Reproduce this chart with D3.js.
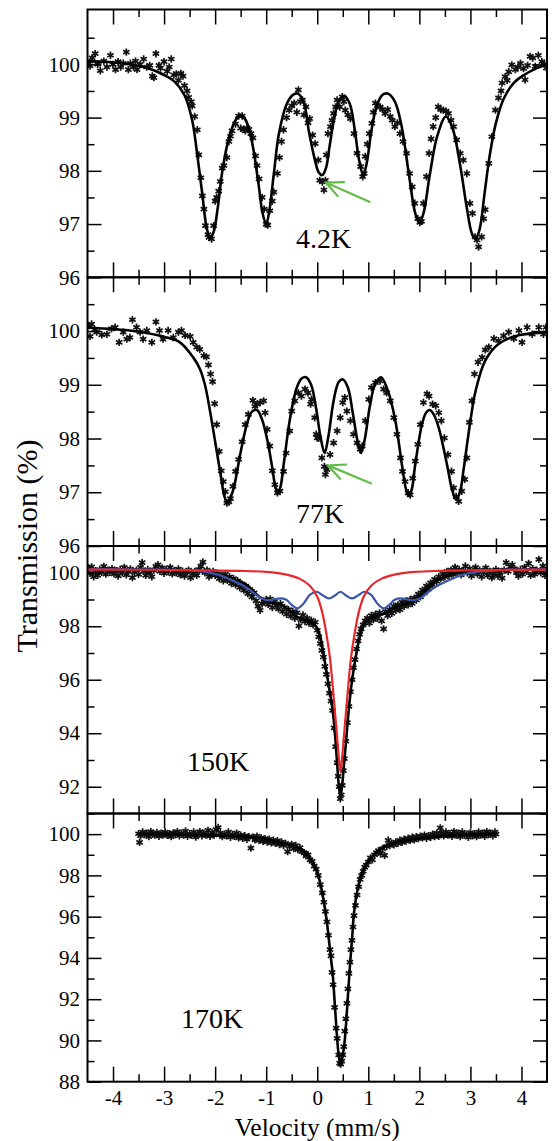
<!DOCTYPE html>
<html>
<head>
<meta charset="utf-8">
<title>Mossbauer spectra</title>
<style>
    body
    {
        margin: 0;
        background: #fff;
    }

    svg
    {
        display: block;
        font-family: "Liberation Serif", "Times New Roman", serif;
    }

    .frame
    {
        fill: none;
        stroke: #000;
        stroke-width: 2;
    }

    .axis line
    {
        stroke: #000;
        stroke-width: 1.5;
    }

    .axis text
    {
        fill: #000;
    }

    .pt
    {
        fill: none;
        stroke: #111;
        stroke-width: 1.7;
    }

    .fit
    {
        fill: none;
        stroke: #000;
        stroke-width: 2.6;
    }

    .singlet
    {
        fill: none;
        stroke: #e8262b;
        stroke-width: 2.2;
    }

    .sextet
    {
        fill: none;
        stroke: #3a56a8;
        stroke-width: 2.2;
    }

    .arrow
    {
        fill: none;
        stroke: #62bd47;
        stroke-width: 2.2;
    }
</style>
<script src="https://cdn.jsdelivr.net/npm/d3@7"></script>
</head>
<body>
<svg id="chart" width="552" height="1141"></svg>

<script>
// ---- data: [velocity (mm/s), transmission (%)] ----
var panelLabels = ["4.2K", "77K", "150K", "170K"];
var xDomain = [-4.5, 4.5];
var xMajorTicks = [-4, -3, -2, -1, 0, 1, 2, 3, 4];
var xMinorTicks = [-3.5, -2.5, -1.5, -0.5, 0.5, 1.5, 2.5, 3.5];
var yDomains = [[96, 101.03], [96, 101], [91, 101], [88, 101]];
var yMajorTicks = [
    [96, 97, 98, 99, 100],
    [96, 97, 98, 99, 100],
    [92, 94, 96, 98, 100],
    [88, 90, 92, 94, 96, 98, 100]
];
var yMinorTicks = [
    [96.5, 97.5, 98.5, 99.5, 100.5],
    [96.5, 97.5, 98.5, 99.5, 100.5],
    [91, 93, 95, 97, 99],
    [89, 91, 93, 95, 97, 99]
];

var spectrum4K = [
    [-4.47,100.02],[-4.45,99.97],[-4.41,100.12],[-4.35,100.2],[-4.3,100.0],[-4.25,99.88],[-4.18,100.06],[-4.12,99.95],
    [-4.05,100.17],[-4.0,100.0],[-3.95,99.9],[-3.9,100.05],[-3.85,99.95],[-3.8,100.02],[-3.74,100.23],[-3.7,99.9],
    [-3.66,100.02],[-3.6,99.95],[-3.56,100.06],[-3.53,99.9],[-3.47,100.0],[-3.4,100.1],[-3.34,99.95],[-3.28,99.98],
    [-3.23,99.78],[-3.2,99.75],[-3.16,100.2],[-3.1,99.98],[-3.07,99.93],[-3.0,100.05],[-2.94,99.87],[-2.9,99.95],
    [-2.86,100.1],[-2.81,99.8],[-2.76,99.82],[-2.72,99.7],[-2.67,99.83],[-2.63,99.78],[-2.6,99.6],[-2.55,99.5],
    [-2.52,99.38],[-2.47,99.3],[-2.45,99.22],[-2.4,99.02],[-2.35,98.77],[-2.32,98.3],[-2.28,97.87],[-2.25,97.53],
    [-2.22,97.28],[-2.19,96.97],[-2.14,96.8],[-2.12,96.75],[-2.07,96.72],[-2.03,96.97],[-2.0,97.43],[-1.97,97.5],
    [-1.93,97.62],[-1.9,97.8],[-1.86,98.05],[-1.83,98.1],[-1.77,98.25],[-1.73,98.55],[-1.7,98.65],[-1.67,98.75],
    [-1.6,98.88],[-1.54,99.03],[-1.5,98.8],[-1.47,99.03],[-1.44,98.78],[-1.41,98.75],[-1.37,98.8],[-1.34,98.78],
    [-1.3,98.7],[-1.26,98.62],[-1.21,98.28],[-1.18,98.1],[-1.14,97.85],[-1.08,97.5],[-1.04,97.28],[-1.0,97.0],
    [-0.97,96.98],[-0.93,97.25],[-0.88,97.43],[-0.85,97.6],[-0.78,97.95],[-0.74,98.25],[-0.7,98.55],[-0.66,98.77],
    [-0.6,99.0],[-0.55,99.14],[-0.5,99.22],[-0.45,99.27],[-0.4,99.1],[-0.37,99.52],[-0.33,99.3],[-0.29,99.33],
    [-0.26,99.05],[-0.22,99.2],[-0.18,98.9],[-0.15,98.98],[-0.09,98.67],[-0.04,98.51],[0.02,98.2],[0.05,97.82],
    [0.1,97.79],[0.13,97.64],[0.16,97.82],[0.18,98.3],[0.21,98.7],[0.26,98.83],[0.29,98.95],[0.32,99.08],
    [0.36,99.2],[0.39,99.33],[0.44,99.2],[0.49,99.39],[0.52,99.3],[0.55,99.14],[0.6,99.05],[0.65,98.98],
    [0.72,98.7],[0.78,98.33],[0.85,98.08],[0.89,97.89],[0.92,97.95],[0.94,98.27],[0.98,98.5],[1.02,98.7],
    [1.07,98.89],[1.1,99.1],[1.14,99.27],[1.18,99.22],[1.23,99.2],[1.28,99.15],[1.33,99.08],[1.38,99.15],
    [1.43,99.02],[1.47,98.95],[1.52,98.83],[1.57,98.9],[1.62,98.7],[1.68,98.55],[1.75,98.33],[1.81,97.95],
    [1.86,97.7],[1.91,97.39],[1.97,97.1],[2.01,97.03],[2.04,97.05],[2.08,97.39],[2.14,97.89],[2.19,98.33],
    [2.23,98.6],[2.27,98.83],[2.32,99.0],[2.37,99.2],[2.42,99.15],[2.47,99.14],[2.52,99.12],[2.57,99.08],
    [2.62,98.95],[2.67,98.83],[2.73,98.58],[2.8,98.33],[2.86,98.2],[2.93,97.95],[2.99,97.39],[3.04,97.2],
    [3.09,96.76],[3.13,96.7],[3.16,96.57],[3.22,96.76],[3.26,97.1],[3.29,97.27],[3.36,98.14],[3.42,98.64],
    [3.49,99.14],[3.55,99.37],[3.6,99.5],[3.62,99.65],[3.68,99.77],[3.72,99.7],[3.75,99.86],[3.81,99.99],
    [3.88,99.9],[3.93,99.95],[3.98,100.02],[4.04,99.92],[4.07,99.71],[4.12,99.98],[4.17,100.15],[4.22,100.12],
    [4.27,99.96],[4.33,100.17],[4.4,100.05],[4.45,100.0],[4.49,99.93]
];

var fit4K = [
    [-4.5,100.06],[-3.8,100.02],[-3.3,99.92],[-3.0,99.8],[-2.8,99.68],[-2.6,99.42],[-2.45,98.95],[-2.35,98.3],
    [-2.25,97.55],[-2.17,96.95],[-2.1,96.73],[-2.03,96.85],[-1.95,97.3],[-1.85,98.05],[-1.72,98.65],[-1.6,98.95],
    [-1.5,99.05],[-1.4,98.95],[-1.28,98.55],[-1.15,97.75],[-1.07,97.2],[-1.0,97.01],[-0.93,97.3],[-0.85,97.95],
    [-0.75,98.7],[-0.6,99.25],[-0.47,99.43],[-0.38,99.45],[-0.27,99.3],[-0.16,98.72],[-0.05,98.22],[0.03,97.97],
    [0.1,97.92],[0.17,98.05],[0.24,98.45],[0.32,98.92],[0.42,99.3],[0.53,99.41],[0.64,99.25],[0.73,98.8],
    [0.82,98.2],[0.9,97.92],[0.97,98.15],[1.06,98.75],[1.16,99.2],[1.27,99.42],[1.38,99.45],[1.52,99.3],
    [1.65,98.85],[1.8,97.9],[1.92,97.2],[2.0,97.03],[2.08,97.2],[2.2,97.9],[2.35,98.65],[2.52,99.02],
    [2.65,98.8],[2.8,98.1],[2.93,97.3],[3.03,96.82],[3.1,96.72],[3.18,96.9],[3.28,97.6],[3.38,98.3],
    [3.5,98.9],[3.65,99.35],[3.85,99.65],[4.05,99.8],[4.3,99.93],[4.5,100.0]
];

var spectrum77K = [
    [-4.48,100.1],[-4.45,99.9],[-4.42,100.13],[-4.36,100.02],[-4.32,99.98],[-4.22,99.93],[-4.12,99.94],[-4.03,100.04],
    [-3.96,100.07],[-3.88,99.79],[-3.8,99.98],[-3.73,99.85],[-3.67,99.88],[-3.62,100.21],[-3.54,100.07],[-3.47,99.98],
    [-3.41,99.85],[-3.34,100.01],[-3.24,99.79],[-3.16,100.17],[-3.09,100.01],[-3.02,99.85],[-2.92,100.01],[-2.82,99.88],
    [-2.72,99.98],[-2.66,100.01],[-2.59,99.92],[-2.49,99.9],[-2.43,99.79],[-2.36,99.7],[-2.3,99.66],[-2.22,99.54],
    [-2.17,99.52],[-2.13,99.37],[-2.09,99.2],[-2.05,99.06],[-2.01,98.65],[-1.97,98.26],[-1.92,97.76],[-1.88,97.4],
    [-1.84,97.2],[-1.8,97.01],[-1.77,96.8],[-1.73,96.82],[-1.7,96.88],[-1.65,97.11],[-1.6,97.39],[-1.54,97.61],
    [-1.47,97.94],[-1.41,98.26],[-1.35,98.45],[-1.26,98.71],[-1.22,98.6],[-1.18,98.64],[-1.12,98.67],[-1.05,98.7],
    [-1.02,98.48],[-0.98,98.17],[-0.93,97.86],[-0.88,97.4],[-0.83,97.14],[-0.78,96.99],[-0.73,97.02],[-0.66,97.39],
    [-0.61,97.73],[-0.54,98.14],[-0.5,98.51],[-0.44,98.7],[-0.37,98.85],[-0.31,98.79],[-0.24,98.92],[-0.18,98.85],
    [-0.13,98.64],[-0.11,98.73],[-0.05,98.39],[-0.02,98.08],[0.0,98.01],[0.03,98.01],[0.09,97.64],[0.14,97.48],
    [0.16,97.33],[0.19,97.42],[0.25,97.7],[0.32,97.92],[0.39,98.14],[0.45,98.39],[0.5,98.67],[0.54,98.76],
    [0.58,98.51],[0.65,98.33],[0.71,98.08],[0.78,97.92],[0.84,97.8],[0.88,97.86],[0.94,98.33],[1.01,98.73],
    [1.06,98.95],[1.14,99.04],[1.23,99.07],[1.3,98.92],[1.36,98.85],[1.43,98.7],[1.5,98.39],[1.56,98.08],
    [1.63,97.64],[1.67,97.39],[1.72,97.2],[1.78,96.99],[1.82,96.95],[1.87,97.26],[1.92,97.58],[1.97,97.89],
    [2.02,98.26],[2.08,98.67],[2.15,98.83],[2.19,98.79],[2.26,98.64],[2.32,98.61],[2.38,98.48],[2.43,98.33],
    [2.49,98.01],[2.56,97.7],[2.63,97.39],[2.67,97.08],[2.72,96.92],[2.77,96.83],[2.83,97.02],[2.89,97.24],
    [2.93,97.64],[2.98,98.3],[3.03,98.7],[3.08,99.2],[3.15,99.42],[3.23,99.51],[3.29,99.65],[3.36,99.7],
    [3.46,99.86],[3.55,99.82],[3.65,99.91],[3.75,99.98],[3.85,99.86],[3.95,100.01],[4.01,99.79],[4.11,100.07],
    [4.21,99.94],[4.34,100.07],[4.43,99.94],[4.48,100.07]
];

var fit77K = [
    [-4.5,100.06],[-3.6,100.0],[-2.95,99.88],[-2.69,99.79],[-2.43,99.51],[-2.3,99.3],[-2.2,99.0],[-2.1,98.51],
    [-1.97,97.77],[-1.88,97.25],[-1.82,96.93],[-1.76,96.8],[-1.7,96.9],[-1.63,97.1],[-1.51,97.7],[-1.38,98.26],
    [-1.28,98.5],[-1.18,98.53],[-1.08,98.35],[-0.98,97.98],[-0.88,97.45],[-0.82,97.1],[-0.77,96.99],[-0.72,97.1],
    [-0.66,97.5],[-0.53,98.39],[-0.4,98.95],[-0.3,99.12],[-0.22,99.14],[-0.12,99.0],[-0.02,98.55],[0.06,98.05],
    [0.144,97.73],[0.22,98.05],[0.32,98.7],[0.42,99.05],[0.503,99.1],[0.6,98.95],[0.7,98.45],[0.79,97.95],
    [0.856,97.73],[0.93,97.98],[1.03,98.6],[1.13,99.0],[1.248,99.14],[1.38,98.9],[1.53,98.33],[1.66,97.5],
    [1.74,97.05],[1.79,96.93],[1.85,97.05],[1.92,97.52],[2.05,98.26],[2.13,98.48],[2.2,98.53],[2.28,98.45],
    [2.38,98.2],[2.54,97.52],[2.64,97.05],[2.72,96.86],[2.8,97.02],[2.87,97.45],[3.0,98.33],[3.1,98.88],
    [3.29,99.45],[3.55,99.76],[3.94,99.92],[4.5,99.97]
];

var spectrum150K = [
    [-4.48,100.18],[-4.45,99.98],[-4.42,100.22],[-4.38,99.85],[-4.34,100.08],[-4.3,99.9],[-4.26,100.12],[-4.22,100.02],
    [-4.18,100.24],[-4.14,99.95],[-4.1,100.1],[-4.06,100.02],[-4.02,100.15],[-3.98,99.96],[-3.94,100.08],[-3.9,99.88],
    [-3.86,100.12],[-3.82,100.0],[-3.78,100.2],[-3.74,99.92],[-3.7,100.05],[-3.66,100.14],[-3.62,99.82],[-3.58,100.02],
    [-3.54,100.1],[-3.5,99.94],[-3.46,100.2],[-3.43,100.38],[-3.4,100.06],[-3.36,99.9],[-3.32,100.12],[-3.28,100.0],
    [-3.24,99.85],[-3.2,100.1],[-3.16,100.24],[-3.12,100.3],[-3.08,100.05],[-3.04,100.18],[-3.0,99.98],[-2.96,100.12],
    [-2.92,100.04],[-2.88,100.2],[-2.84,99.96],[-2.8,100.08],[-2.76,100.0],[-2.72,100.14],[-2.68,99.92],[-2.64,100.06],
    [-2.6,99.88],[-2.56,100.02],[-2.52,100.1],[-2.48,99.82],[-2.44,99.96],[-2.4,100.05],[-2.36,99.9],[-2.32,100.12],
    [-2.28,100.25],[-2.24,100.4],[-2.2,100.0],[-2.16,100.1],[-2.12,99.85],[-2.08,99.95],[-2.04,100.05],[-2.0,99.9],
    [-1.96,99.98],[-1.92,99.78],[-1.88,99.9],[-1.84,99.7],[-1.8,99.95],[-1.76,99.72],[-1.72,99.85],[-1.68,99.6],
    [-1.64,99.78],[-1.6,99.55],[-1.56,99.7],[-1.52,99.45],[-1.48,99.58],[-1.44,99.35],[-1.4,99.5],[-1.36,99.22],
    [-1.32,99.38],[-1.28,99.1],[-1.24,99.25],[-1.2,98.95],[-1.16,98.75],[-1.12,98.6],[-1.08,98.85],[-1.04,98.9],
    [-1.0,99.0],[-0.96,98.82],[-0.92,99.02],[-0.88,98.7],[-0.84,98.92],[-0.8,98.78],[-0.76,98.65],[-0.72,98.85],
    [-0.68,98.55],[-0.64,98.7],[-0.6,98.45],[-0.56,98.62],[-0.52,98.38],[-0.48,98.55],[-0.44,98.3],[-0.4,98.5],
    [-0.36,98.01],[-0.32,98.25],[-0.28,98.42],[-0.24,98.18],[-0.2,98.3],[-0.16,98.12],[-0.12,98.22],[-0.08,98.05],
    [-0.04,98.15],[0.0,97.85],[0.03,97.6],[0.06,97.35],[0.09,97.1],[0.12,96.85],[0.15,96.5],[0.18,96.2],
    [0.21,95.85],[0.24,95.5],[0.27,95.2],[0.3,94.85],[0.33,94.2],[0.36,93.5],[0.39,92.9],[0.41,92.4],
    [0.43,92.0],[0.45,91.55],[0.47,91.7],[0.49,92.05],[0.51,92.6],[0.53,93.05],[0.56,93.7],[0.59,94.4],
    [0.62,95.0],[0.65,95.55],[0.68,96.0],[0.71,96.45],[0.74,96.75],[0.77,97.15],[0.8,97.45],[0.83,97.7],
    [0.86,97.9],[0.9,98.05],[0.94,98.2],[0.98,98.3],[1.02,98.12],[1.06,98.4],[1.1,98.25],[1.14,98.45],
    [1.18,98.3],[1.22,98.5],[1.26,98.2],[1.3,97.9],[1.34,98.55],[1.38,98.4],[1.42,98.62],[1.46,98.48],
    [1.5,98.75],[1.54,98.6],[1.58,98.8],[1.62,98.62],[1.66,98.9],[1.7,98.75],[1.74,98.95],[1.78,98.8],
    [1.82,99.0],[1.86,98.85],[1.9,99.05],[1.94,98.98],[1.98,99.2],[2.02,99.1],[2.06,99.35],[2.1,99.25],
    [2.14,99.5],[2.18,99.4],[2.22,99.62],[2.26,99.55],[2.3,99.75],[2.34,99.68],[2.38,99.85],[2.42,99.78],
    [2.46,99.95],[2.5,99.85],[2.54,100.05],[2.58,99.9],[2.62,100.1],[2.66,99.95],[2.7,100.2],[2.74,100.02],
    [2.78,100.12],[2.82,99.92],[2.86,100.08],[2.9,100.25],[2.94,100.0],[2.98,100.15],[3.02,99.88],[3.06,100.05],
    [3.1,100.2],[3.14,99.95],[3.18,100.1],[3.22,99.85],[3.26,100.02],[3.3,100.18],[3.34,99.9],[3.38,100.05],
    [3.42,99.82],[3.46,99.95],[3.5,100.12],[3.54,99.88],[3.58,100.0],[3.62,99.8],[3.66,100.1],[3.7,100.38],
    [3.74,100.05],[3.78,100.22],[3.82,100.3],[3.86,100.15],[3.9,100.0],[3.94,99.88],[3.98,100.12],[4.02,99.95],
    [4.06,100.2],[4.1,100.05],[4.14,100.35],[4.18,99.9],[4.22,100.15],[4.26,99.95],[4.3,100.1],[4.34,100.5],
    [4.38,100.0],[4.42,100.25],[4.46,99.9],[4.49,100.05]
];

var fit150K = [
    [-4.5,100.13],[-3.0,100.12],[-2.5,100.08],[-2.1,99.99],[-1.8,99.88],[-1.6,99.74],[-1.4,99.57],[-1.25,99.3],
    [-1.12,99.08],[-0.98,98.93],[-0.84,98.86],[-0.7,98.8],[-0.55,98.6],[-0.42,98.38],[-0.3,98.27],[-0.18,98.2],
    [-0.08,98.1],[0.0,97.92],[0.06,97.6],[0.12,97.0],[0.19,96.2],[0.25,95.5],[0.3,94.9],[0.35,93.9],
    [0.39,92.85],[0.42,92.1],[0.455,91.65],[0.49,92.1],[0.52,92.75],[0.56,93.6],[0.62,94.95],[0.68,95.95],
    [0.75,96.8],[0.82,97.5],[0.88,97.9],[0.95,98.15],[1.05,98.3],[1.2,98.4],[1.35,98.5],[1.5,98.67],
    [1.7,98.82],[1.87,98.93],[2.0,99.1],[2.15,99.4],[2.3,99.65],[2.5,99.85],[2.75,100.0],[3.1,100.08],
    [3.6,100.12],[4.5,100.13]
];

var singlet150K = [
    [-4.5,100.12],[-2.5,100.1],[-1.5,100.07],[-1.0,100.03],[-0.6,99.93],[-0.35,99.78],[-0.15,99.52],[0.0,99.1],
    [0.1,98.5],[0.18,97.7],[0.25,96.8],[0.31,95.6],[0.36,94.5],[0.4,93.6],[0.43,92.9],[0.455,92.56],
    [0.48,92.9],[0.51,93.6],[0.55,94.5],[0.6,95.6],[0.66,96.8],[0.73,97.7],[0.81,98.5],[0.91,99.1],
    [1.06,99.52],[1.26,99.78],[1.51,99.93],[1.91,100.03],[2.41,100.07],[3.4,100.1],[4.5,100.12]
];

var sextet150K = [
    [-4.5,100.13],[-2.6,100.1],[-2.2,100.03],[-1.9,99.9],[-1.7,99.75],[-1.5,99.57],[-1.35,99.4],[-1.2,99.18],
    [-1.07,99.02],[-0.94,98.97],[-0.82,99.02],[-0.7,99.04],[-0.6,98.98],[-0.5,98.8],[-0.39,98.67],[-0.28,98.82],
    [-0.14,99.18],[-0.01,99.29],[0.12,99.14],[0.23,99.04],[0.34,99.14],[0.455,99.29],[0.57,99.14],[0.68,99.04],
    [0.79,99.14],[0.92,99.29],[1.05,99.18],[1.19,98.82],[1.3,98.67],[1.41,98.8],[1.51,98.98],[1.61,99.04],
    [1.73,99.02],[1.85,98.97],[1.98,99.02],[2.11,99.18],[2.26,99.4],[2.41,99.57],[2.61,99.75],[2.81,99.9],
    [3.11,100.03],[3.51,100.1],[4.5,100.13]
];

var spectrum170K = [
    [-3.5,100.02],[-3.48,99.6],[-3.46,99.92],[-3.42,100.1],[-3.38,99.98],[-3.34,100.05],[-3.3,99.88],[-3.26,100.12],
    [-3.22,100.0],[-3.18,99.95],[-3.14,100.08],[-3.1,99.9],[-3.06,100.04],[-3.02,99.96],[-2.98,100.1],[-2.94,99.94],
    [-2.9,100.02],[-2.86,99.88],[-2.82,100.06],[-2.78,99.98],[-2.74,100.12],[-2.7,99.92],[-2.66,100.04],[-2.62,99.96],
    [-2.58,100.15],[-2.54,99.9],[-2.5,100.02],[-2.46,99.94],[-2.42,100.1],[-2.38,99.86],[-2.34,100.0],[-2.3,100.12],
    [-2.26,99.92],[-2.22,100.05],[-2.18,99.96],[-2.14,100.18],[-2.1,99.9],[-2.06,100.08],[-2.02,99.95],[-1.98,100.22],
    [-1.94,100.32],[-1.9,100.05],[-1.86,99.88],[-1.82,100.0],[-1.78,99.92],[-1.74,100.1],[-1.7,99.85],[-1.66,99.98],
    [-1.62,99.9],[-1.58,100.05],[-1.54,99.82],[-1.5,99.95],[-1.46,99.8],[-1.42,99.92],[-1.38,99.75],[-1.34,99.88],
    [-1.3,99.32],[-1.26,99.85],[-1.22,99.72],[-1.18,99.9],[-1.14,99.7],[-1.1,99.82],[-1.06,99.65],[-1.02,99.78],
    [-0.98,99.62],[-0.94,99.75],[-0.9,99.58],[-0.86,99.7],[-0.82,99.55],[-0.78,99.68],[-0.74,99.5],[-0.7,99.62],
    [-0.66,99.45],[-0.62,99.55],[-0.58,99.15],[-0.54,99.42],[-0.5,99.5],[-0.46,99.3],[-0.42,99.45],[-0.38,99.25],
    [-0.34,99.35],[-0.3,99.15],[-0.26,99.1],[-0.22,98.95],[-0.18,99.0],[-0.14,98.75],[-0.1,98.68],[-0.06,98.45],
    [-0.02,98.3],[0.02,98.0],[0.06,97.55],[0.1,97.15],[0.13,96.7],[0.16,96.25],[0.19,95.75],[0.22,95.1],
    [0.25,94.4],[0.27,94.1],[0.29,93.3],[0.31,92.7],[0.34,91.6],[0.37,90.6],[0.39,90.1],[0.42,89.3],
    [0.44,88.9],[0.46,88.85],[0.48,89.0],[0.5,89.3],[0.52,89.7],[0.54,90.45],[0.56,91.05],[0.58,91.8],
    [0.6,92.5],[0.62,93.25],[0.64,93.8],[0.66,94.4],[0.68,94.85],[0.7,95.5],[0.72,96.05],[0.75,96.55],
    [0.78,97.05],[0.81,97.45],[0.84,97.8],[0.87,98.0],[0.9,98.2],[0.93,98.4],[0.96,98.5],[1.0,98.65],
    [1.04,98.85],[1.08,98.75],[1.12,99.0],[1.16,99.1],[1.2,99.2],[1.24,99.05],[1.28,99.3],[1.32,98.97],
    [1.36,99.4],[1.39,99.7],[1.42,99.45],[1.46,99.55],[1.5,99.48],[1.54,99.62],[1.58,99.55],[1.62,99.7],
    [1.66,99.6],[1.7,99.75],[1.74,99.66],[1.78,99.8],[1.82,99.7],[1.86,99.85],[1.9,99.72],[1.94,99.88],
    [1.98,99.78],[2.02,99.9],[2.06,99.82],[2.1,99.95],[2.14,99.8],[2.18,99.92],[2.22,99.85],[2.26,100.0],
    [2.3,99.88],[2.34,100.05],[2.38,99.9],[2.41,100.3],[2.44,100.05],[2.48,99.92],[2.52,100.1],[2.56,99.95],
    [2.6,100.02],[2.64,99.9],[2.68,100.12],[2.72,99.96],[2.76,100.05],[2.8,99.88],[2.84,100.1],[2.88,99.95],
    [2.92,100.0],[2.96,99.85],[3.0,100.08],[3.04,99.92],[3.08,100.02],[3.12,99.88],[3.16,100.1],[3.2,99.95],
    [3.24,100.05],[3.28,99.9],[3.32,100.12],[3.36,99.98],[3.4,100.05],[3.44,99.92],[3.48,100.1],[3.5,100.0]
];

var fit170K = [
    [-3.5,100.0],[-2.7,99.97],[-2.0,99.93],[-1.4,99.87],[-1.0,99.75],[-0.73,99.58],[-0.5,99.45],[-0.34,99.3],
    [-0.2,99.05],[-0.1,98.7],[-0.01,98.24],[0.06,97.6],[0.12,96.86],[0.18,95.9],[0.22,95.08],[0.26,94.15],
    [0.3,93.3],[0.34,91.9],[0.39,90.1],[0.42,89.3],[0.455,88.88],[0.49,89.2],[0.53,89.8],[0.57,91.0],
    [0.61,92.5],[0.645,93.8],[0.68,94.85],[0.72,96.2],[0.78,97.19],[0.87,98.08],[0.95,98.5],[1.03,98.8],
    [1.15,99.1],[1.29,99.37],[1.5,99.58],[1.75,99.7],[2.27,99.86],[2.7,99.94],[3.1,99.98],[3.5,100.0]
];

// green arrows marking the extra line (panel index, tip, tail)
var arrowPanels = [0, 1];
var arrowTips = [[0.17, 97.78], [0.21, 97.5]];
var arrowTails = [[1.04, 97.41], [1.07, 97.16]];

// ---- layout ----
var serif = "Liberation Serif, Times New Roman, serif";

var layout =
{
    left: 87.5,
    right: 547,
    panels:
    [
        {top: 9.5, bottom: 277.3, labelX: 296, labelY: 248},
        {top: 277.3, bottom: 546, labelX: 296, labelY: 523},
        {top: 546, bottom: 813.5, labelX: 187, labelY: 771},
        {top: 813.5, bottom: 1081.7, labelX: 181, labelY: 1028}
    ]
};

var series =
[
    {points: spectrum4K, lines: [{data: fit4K, cls: "fit"}]},
    {points: spectrum77K, lines: [{data: fit77K, cls: "fit"}]},
    {points: spectrum150K, lines: [{data: fit150K, cls: "fit"}, {data: sextet150K, cls: "sextet"}, {data: singlet150K, cls: "singlet"}]},
    {points: spectrum170K, lines: [{data: fit170K, cls: "fit"}]}
];

var svg = d3.select("#chart");

var x = d3.scaleLinear()
    .domain(xDomain)
    .range([layout.left, layout.right]);

// asterisk marker, falls back to a hand made one on older d3 builds
var starType = d3.symbolAsterisk ||
{
    draw: function(context, size)
    {
        var r = Math.sqrt(size) * 0.6;
        for (var k = 0; k < 3; k++)
        {
            var a = Math.PI / 2 + k * Math.PI / 3;
            context.moveTo(r * Math.cos(a), r * Math.sin(a));
            context.lineTo(-r * Math.cos(a), -r * Math.sin(a));
        }
    }
};
var star = d3.symbol().type(starType).size(38);

layout.panels.forEach(function(p, i)
{
    var y = d3.scaleLinear()
        .domain(yDomains[i])
        .range([p.bottom, p.top]);

    var line = d3.line()
        .x(function(d) { return x(d[0]); })
        .y(function(d) { return y(d[1]); })
        .curve(d3.curveCatmullRom.alpha(0.5));

    svg.append("clipPath")
        .attr("id", "clip" + i)
        .append("rect")
        .attr("x", layout.left)
        .attr("y", p.top)
        .attr("width", layout.right - layout.left)
        .attr("height", p.bottom - p.top);

    var plot = svg.append("g").attr("clip-path", "url(#clip" + i + ")");

    plot.selectAll("path.pt")
        .data(series[i].points)
        .enter()
        .append("path")
        .attr("class", "pt")
        .attr("transform", function(d) { return "translate(" + x(d[0]) + "," + y(d[1]) + ")"; })
        .attr("d", star);

    series[i].lines.forEach(function(s)
    {
        plot.append("path")
            .datum(s.data)
            .attr("class", s.cls)
            .attr("d", line);
    });

    // ticks on all four sides, pointing inwards
    var isLast = i == layout.panels.length - 1;

    var addAxis = function(axis, tx, ty)
    {
        var g = svg.append("g")
            .attr("class", "axis")
            .attr("transform", "translate(" + tx + "," + ty + ")")
            .call(axis);
        g.select(".domain").remove();
        g.attr("font-family", serif).attr("font-size", 21);
        return g;
    };

    addAxis(d3.axisBottom(x).tickValues(xMajorTicks).tickSize(-15).tickPadding(8.5)
        .tickFormat(isLast ? function(d) { return d; } : ""), 0, p.bottom);
    addAxis(d3.axisBottom(x).tickValues(xMinorTicks).tickSize(-7.5).tickFormat(""), 0, p.bottom);
    addAxis(d3.axisTop(x).tickValues(xMajorTicks).tickSize(-15).tickFormat(""), 0, p.top);
    addAxis(d3.axisTop(x).tickValues(xMinorTicks).tickSize(-7.5).tickFormat(""), 0, p.top);

    addAxis(d3.axisLeft(y).tickValues(yMajorTicks[i]).tickSize(-14).tickPadding(7.5)
        .tickFormat(function(d) { return d; }), layout.left, 0);
    addAxis(d3.axisLeft(y).tickValues(yMinorTicks[i]).tickSize(-7).tickFormat(""), layout.left, 0);
    addAxis(d3.axisRight(y).tickValues(yMajorTicks[i]).tickSize(-14).tickFormat(""), layout.right, 0);
    addAxis(d3.axisRight(y).tickValues(yMinorTicks[i]).tickSize(-7).tickFormat(""), layout.right, 0);

    svg.append("rect")
        .attr("class", "frame")
        .attr("x", layout.left)
        .attr("y", p.top)
        .attr("width", layout.right - layout.left)
        .attr("height", p.bottom - p.top);

    svg.append("text")
        .attr("x", p.labelX)
        .attr("y", p.labelY)
        .attr("font-family", serif)
        .attr("font-size", 28)
        .text(panelLabels[i]);

    arrowPanels.forEach(function(ap, k)
    {
        if (ap != i) return;
        var tx = x(arrowTips[k][0]), ty = y(arrowTips[k][1]);
        var ex = x(arrowTails[k][0]), ey = y(arrowTails[k][1]);
        var ang = Math.atan2(ey - ty, ex - tx);
        var len = 19, spread = 0.44;
        var d = "M" + ex + "," + ey + "L" + tx + "," + ty +
            "M" + (tx + len * Math.cos(ang - spread)) + "," + (ty + len * Math.sin(ang - spread)) +
            "L" + tx + "," + ty +
            "L" + (tx + len * Math.cos(ang + spread)) + "," + (ty + len * Math.sin(ang + spread));
        svg.append("path").attr("class", "arrow").attr("d", d);
    });
});

svg.append("text")
    .attr("transform", "translate(37,546) rotate(-90)")
    .attr("text-anchor", "middle")
    .attr("font-family", serif)
    .attr("font-size", 30)
    .text("Transmission (%)");

svg.append("text")
    .attr("x", x(0))
    .attr("y", 1135.5)
    .attr("text-anchor", "middle")
    .attr("font-family", serif)
    .attr("font-size", 25.5)
    .text("Velocity (mm/s)");
</script>
</body>
</html>
